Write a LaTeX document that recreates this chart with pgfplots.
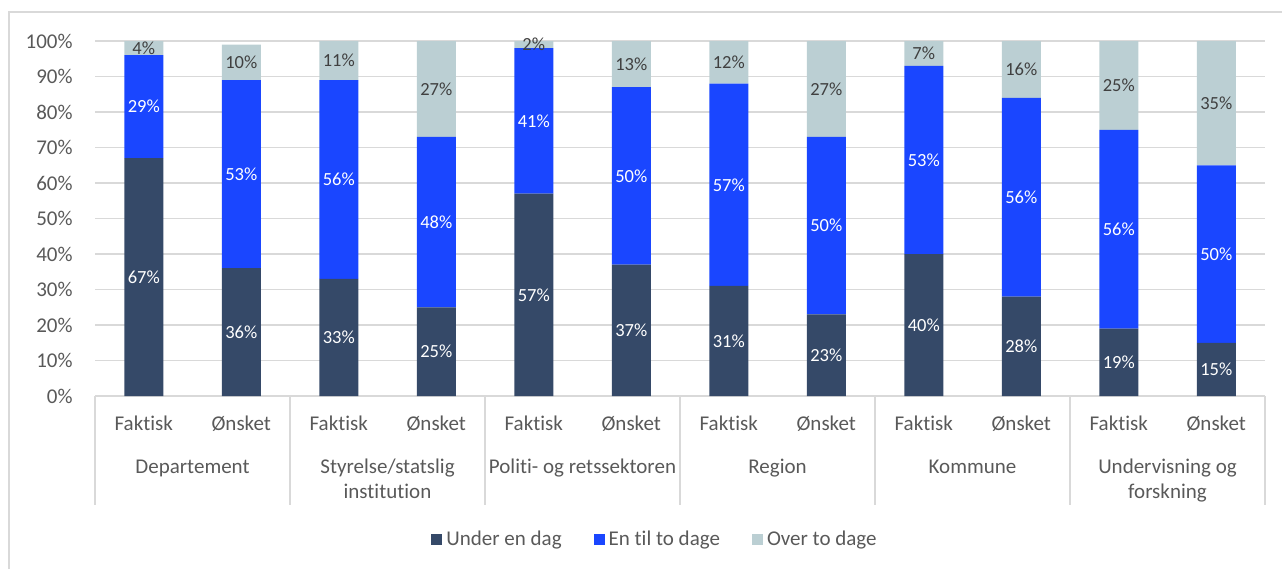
\documentclass[border=0pt]{standalone}
\usepackage{fontspec}
\setmainfont{Carlito}[Ligatures=NoCommon]
\usepackage{pgfplots}
\usepackage{pgfplotstable}
\pgfplotsset{compat=1.18}

\definecolor{under}{HTML}{354968}
\definecolor{entil}{HTML}{1A46FF}
\definecolor{over}{HTML}{BBCFD3}
\definecolor{txt}{HTML}{595959}
\definecolor{lbl}{HTML}{404040}
\definecolor{sep}{HTML}{D9D9D9}

% shares per bar: a = under en dag, b = en til to dage, c = over to dage
% ma, mb, mc = middle of each segment (where its label sits)
\pgfplotstableread{
x a b c ma mb mc
0 67 29 4 33.5 81.5 98
1 36 53 10 18 62.5 94
2 33 56 11 16.5 61 94.5
3 25 48 27 12.5 49 86.5
4 57 41 2 28.5 77.5 99
5 37 50 13 18.5 62 93.5
6 31 57 12 15.5 59.5 94
7 23 50 27 11.5 48 86.5
8 40 53 7 20 66.5 96.5
9 28 56 16 14 56 92
10 19 56 25 9.5 47 87.5
11 15 50 35 7.5 40 82.5
}\shares

\pgfplotsset{
  frame/.style={
    at={(47.5pt,86.5pt)}, anchor=south west,
    scale only axis, width=585pt, height=177.5pt,
    xmin=-0.5, xmax=11.5, ymin=0, ymax=100,
  },
  seglabel/.style={draw=none, mark=none, point meta=explicit symbolic,
    nodes near coords={\pgfplotspointmeta\%},
    every node near coord/.style={anchor=center, inner sep=0pt, font=\fontsize{9.25}{11}\selectfont, text=#1}},
}

\begin{document}
\begin{tikzpicture}
\useasboundingbox (0,0) rectangle (641pt,284.5pt);
\draw[sep, line width=0.8pt] (4.5pt,0) -- (4.5pt,278.5pt) -- (641pt,278.5pt);
\begin{axis}[
  frame,
  ybar stacked, bar width=19.5pt,
  axis line style={draw=none},
  major tick length=0pt,
  ymajorgrids, major grid style={sep, line width=0.8pt},
  ytick={0,10,...,100},
  yticklabels={0\%,10\%,20\%,30\%,40\%,50\%,60\%,70\%,80\%,90\%,100\%},
  yticklabel style={font=\fontsize{10.5}{12}\selectfont, text=txt, inner sep=0pt, anchor=east, xshift=-11pt},
  xtick={0,...,11},
  xticklabels={Faktisk,Ønsket,Faktisk,Ønsket,Faktisk,Ønsket,Faktisk,Ønsket,Faktisk,Ønsket,Faktisk,Ønsket},
  xticklabel style={font=\fontsize{10.5}{12}\selectfont, text=txt, inner sep=0pt, anchor=base, yshift=-17pt},
  legend columns=3,
  legend style={at={(0.4795,-0.4056)}, anchor=center, draw=none, fill=none,
    font=\fontsize{10.5}{12}\selectfont, text=txt,
    /tikz/every even column/.append style={column sep=14pt}},
  legend image code/.code={\fill[#1] (0pt,-2.75pt) rectangle (5.5pt,2.75pt);},
]
\addplot[fill=under, draw=none] table[x=x, y=a] {\shares};
\addlegendentry{Under en dag}
\addplot[fill=entil, draw=none] table[x=x, y=b] {\shares};
\addlegendentry{En til to dage}
\addplot[fill=over, draw=none] table[x=x, y=c] {\shares};
\addlegendentry{Over to dage}
\end{axis}
% value labels, centred in each segment
\begin{axis}[frame, hide axis]
\addplot[seglabel=white] table[x=x, y=ma, meta=a] {\shares};
\addplot[seglabel=white] table[x=x, y=mb, meta=b] {\shares};
\addplot[seglabel=lbl] table[x=x, y=mc, meta=c] {\shares};
\end{axis}
% group separators and group names under the tick labels
\foreach \k in {0,...,6} {
  \draw[sep, line width=0.8pt] ({47.5pt+\k*97.5pt},86.5pt) -- ++(0,-54.5pt);
}
\begin{scope}[every node/.style={font=\fontsize{10.5}{12}\selectfont, text=txt, inner sep=0pt, anchor=base}]
\node at (96.25pt,48pt) {Departement};
\node at (193.75pt,48pt) {Styrelse/statslig};
\node at (193.75pt,35.5pt) {institution};
\node at (291.25pt,48pt) {Politi- og retssektoren};
\node at (388.75pt,48pt) {Region};
\node at (486.25pt,48pt) {Kommune};
\node at (583.75pt,48pt) {Undervisning og};
\node at (583.75pt,35.5pt) {forskning};
\end{scope}
\end{tikzpicture}
\end{document}
